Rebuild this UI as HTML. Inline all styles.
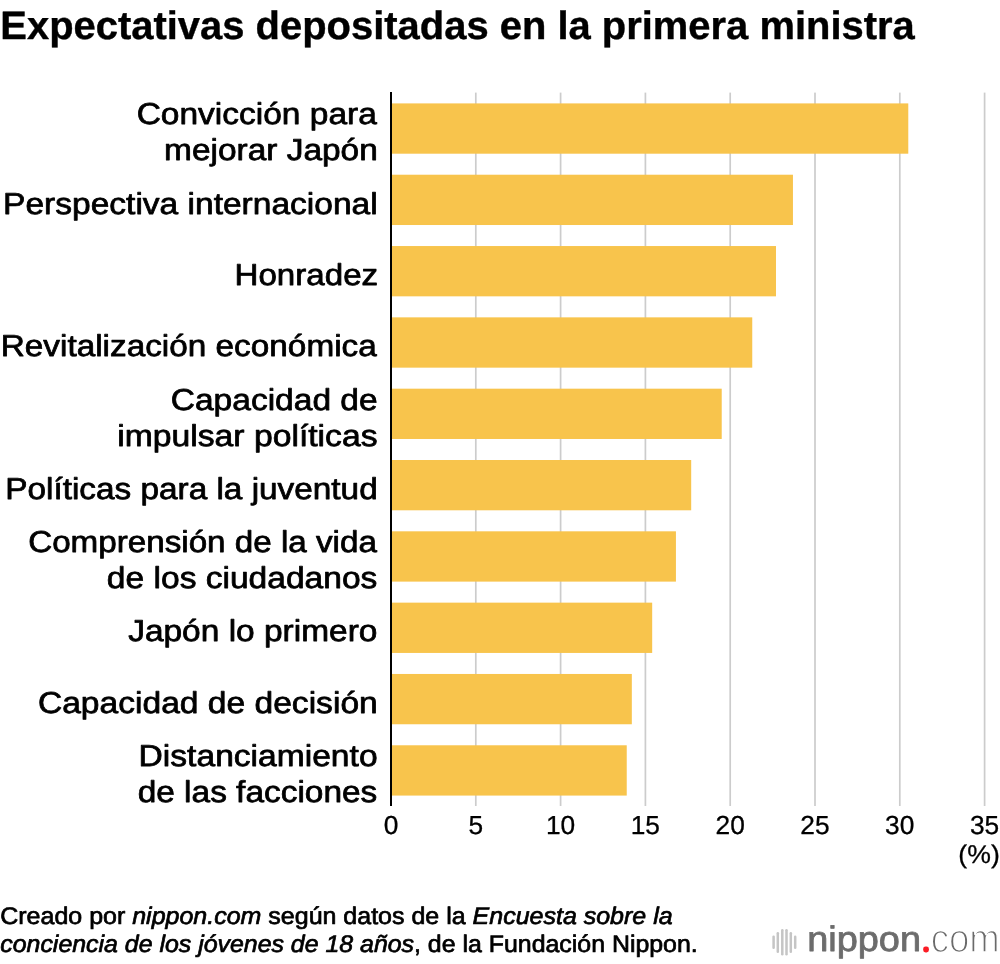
<!DOCTYPE html>
<html lang="es">
<head>
<meta charset="utf-8">
<title>Expectativas depositadas en la primera ministra</title>
<style>
html,body{margin:0;padding:0;background:#fff;}
body{width:1000px;height:964px;overflow:hidden;}
svg{display:block;will-change:transform;}
text{font-family:"Liberation Sans",sans-serif;text-rendering:geometricPrecision;}
</style>
</head>
<body>
<svg width="1000" height="964" viewBox="0 0 1000 964">
<rect width="1000" height="964" fill="#ffffff"/>
<g fill="#cccccc">
<rect x="474.95" y="92.60" width="1.7" height="713.40"/>
<rect x="559.75" y="92.60" width="1.7" height="713.40"/>
<rect x="644.55" y="92.60" width="1.7" height="713.40"/>
<rect x="729.35" y="92.60" width="1.7" height="713.40"/>
<rect x="814.15" y="92.60" width="1.7" height="713.40"/>
<rect x="898.95" y="92.60" width="1.7" height="713.40"/>
<rect x="983.75" y="92.60" width="1.7" height="713.40"/>
</g>
<g fill="#f8c44c">
<rect x="391.00" y="103.40" width="517.28" height="50.30"/>
<rect x="391.00" y="174.72" width="401.95" height="50.30"/>
<rect x="391.00" y="246.04" width="384.99" height="50.30"/>
<rect x="391.00" y="317.36" width="361.25" height="50.30"/>
<rect x="391.00" y="388.68" width="330.72" height="50.30"/>
<rect x="391.00" y="460.00" width="300.19" height="50.30"/>
<rect x="391.00" y="531.32" width="284.93" height="50.30"/>
<rect x="391.00" y="602.64" width="261.18" height="50.30"/>
<rect x="391.00" y="673.96" width="240.83" height="50.30"/>
<rect x="391.00" y="745.28" width="235.74" height="50.30"/>
</g>
<rect x="390.00" y="92.00" width="2" height="714.00" fill="#000"/>
<text id="title" transform="translate(0.31 39.00) scale(1.0090 1.0000)" font-size="39.6" text-anchor="start" font-weight="bold" stroke="#000" stroke-width="0.4" stroke-linejoin="round">Expectativas depositadas en la primera ministra</text>
<text id="l1a" transform="translate(376.81 124.00) scale(1.1093 1.0000)" font-size="30.2" text-anchor="end" stroke="#000" stroke-width="0.75" stroke-linejoin="round">Convicción para</text>
<text id="l1b" transform="translate(377.78 160.00) scale(1.1073 1.0000)" font-size="30.2" text-anchor="end" stroke="#000" stroke-width="0.75" stroke-linejoin="round">mejorar Japón</text>
<text id="l2" transform="translate(377.67 214.00) scale(1.1106 1.0000)" font-size="30.2" text-anchor="end" stroke="#000" stroke-width="0.75" stroke-linejoin="round">Perspectiva internacional</text>
<text id="l3" transform="translate(378.12 285.00) scale(1.0969 1.0000)" font-size="30.2" text-anchor="end" stroke="#000" stroke-width="0.75" stroke-linejoin="round">Honradez</text>
<text id="l4" transform="translate(376.77 356.00) scale(1.1040 1.0000)" font-size="30.2" text-anchor="end" stroke="#000" stroke-width="0.75" stroke-linejoin="round">Revitalización económica</text>
<text id="l5a" transform="translate(377.65 410.00) scale(1.1106 1.0000)" font-size="30.2" text-anchor="end" stroke="#000" stroke-width="0.75" stroke-linejoin="round">Capacidad de</text>
<text id="l5b" transform="translate(377.51 446.00) scale(1.1160 1.0000)" font-size="30.2" text-anchor="end" stroke="#000" stroke-width="0.75" stroke-linejoin="round">impulsar políticas</text>
<text id="l6" transform="translate(377.70 499.00) scale(1.1043 1.0000)" font-size="30.2" text-anchor="end" stroke="#000" stroke-width="0.75" stroke-linejoin="round">Políticas para la juventud</text>
<text id="l7a" transform="translate(376.86 552.00) scale(1.0994 1.0000)" font-size="30.2" text-anchor="end" stroke="#000" stroke-width="0.75" stroke-linejoin="round">Comprensión de la vida</text>
<text id="l7b" transform="translate(377.38 588.00) scale(1.1116 1.0000)" font-size="30.2" text-anchor="end" stroke="#000" stroke-width="0.75" stroke-linejoin="round">de los ciudadanos</text>
<text id="l8" transform="translate(377.48 641.00) scale(1.1088 1.0000)" font-size="30.2" text-anchor="end" stroke="#000" stroke-width="0.75" stroke-linejoin="round">Japón lo primero</text>
<text id="l9" transform="translate(377.75 713.00) scale(1.1126 1.0000)" font-size="30.2" text-anchor="end" stroke="#000" stroke-width="0.75" stroke-linejoin="round">Capacidad de decisión</text>
<text id="l10a" transform="translate(377.56 766.00) scale(1.1126 1.0000)" font-size="30.2" text-anchor="end" stroke="#000" stroke-width="0.75" stroke-linejoin="round">Distanciamiento</text>
<text id="l10b" transform="translate(377.28 802.00) scale(1.1068 1.0000)" font-size="30.2" text-anchor="end" stroke="#000" stroke-width="0.75" stroke-linejoin="round">de las facciones</text>
<text id="t0" transform="translate(390.95 834.00) scale(1.0080 1.0000)" font-size="26.1" text-anchor="middle" stroke="#000" stroke-width="0.3" stroke-linejoin="round">0</text>
<text id="t5" transform="translate(475.75 834.00) scale(1.0080 1.0000)" font-size="26.1" text-anchor="middle" stroke="#000" stroke-width="0.3" stroke-linejoin="round">5</text>
<text id="t10" transform="translate(560.55 834.00) scale(1.0080 1.0000)" font-size="26.1" text-anchor="middle" stroke="#000" stroke-width="0.3" stroke-linejoin="round">10</text>
<text id="t15" transform="translate(645.35 834.00) scale(1.0080 1.0000)" font-size="26.1" text-anchor="middle" stroke="#000" stroke-width="0.3" stroke-linejoin="round">15</text>
<text id="t20" transform="translate(730.15 834.00) scale(1.0080 1.0000)" font-size="26.1" text-anchor="middle" stroke="#000" stroke-width="0.3" stroke-linejoin="round">20</text>
<text id="t25" transform="translate(814.95 834.00) scale(1.0080 1.0000)" font-size="26.1" text-anchor="middle" stroke="#000" stroke-width="0.3" stroke-linejoin="round">25</text>
<text id="t30" transform="translate(899.75 834.00) scale(1.0080 1.0000)" font-size="26.1" text-anchor="middle" stroke="#000" stroke-width="0.3" stroke-linejoin="round">30</text>
<text id="t35" transform="translate(984.55 834.00) scale(1.0080 1.0000)" font-size="26.1" text-anchor="middle" stroke="#000" stroke-width="0.3" stroke-linejoin="round">35</text>
<text id="pct" transform="translate(999.77 863.00) scale(1.0405 1.0000)" font-size="25.6" text-anchor="end" stroke="#000" stroke-width="0.3" stroke-linejoin="round">(%)</text>
<text id="f1" transform="translate(0.24 924.00) scale(1.0412 1.0000)" font-size="24" text-anchor="start" stroke="#000" stroke-width="0.7" stroke-linejoin="round">Creado por <tspan font-style="italic">nippon.com</tspan> según datos de la <tspan font-style="italic">Encuesta sobre la</tspan></text>
<text id="f2" transform="translate(0.29 952.00) scale(1.0371 1.0000)" font-size="24" text-anchor="start" stroke="#000" stroke-width="0.7" stroke-linejoin="round"><tspan font-style="italic">conciencia de los jóvenes de 18 años</tspan>, de la Fundación Nippon.</text>
<text id="lg1" transform="translate(807.17 951.00) scale(1.0707 1.0000)" font-size="35.4" text-anchor="start" fill="#6c6c6c" stroke="#6c6c6c" stroke-width="0.8" stroke-linejoin="round">nippon</text>
<text id="dot" transform="translate(924.85 950.00) scale(0.9988 1.0000)" font-size="9.4" text-anchor="start" fill="#fb1c25" stroke="#fb1c25" stroke-width="4.9" stroke-linejoin="round">.</text>
<text id="lg2" transform="translate(930.75 952.00) scale(0.9179 1.0000)" font-size="39.8" text-anchor="start" fill="#6a6a6a" stroke="#ffffff" stroke-width="1.5" stroke-linejoin="round">com</text>
<g fill="#c5c5c5">
<rect x="772.35" y="935.6" width="2.5" height="13.5" rx="1.25"/>
<rect x="776.55" y="931.9" width="2.5" height="21.1" rx="1.25"/>
<rect x="781.05" y="929.0" width="2.5" height="26.5" rx="1.25"/>
<rect x="785.25" y="929.0" width="2.5" height="26.5" rx="1.25"/>
<rect x="789.55" y="931.9" width="2.5" height="21.1" rx="1.25"/>
<rect x="793.95" y="935.6" width="2.5" height="13.5" rx="1.25"/>
</g>
</svg>
</body>
</html>
